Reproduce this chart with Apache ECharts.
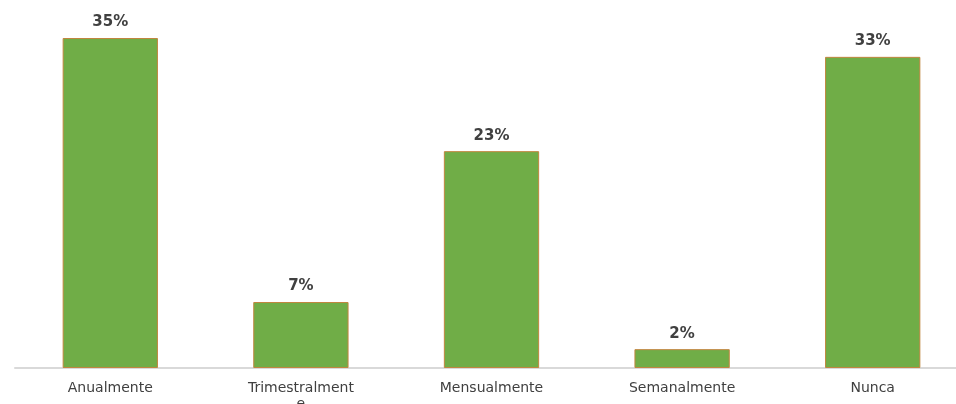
<!DOCTYPE html>
<html><head><meta charset="utf-8">
<script src="https://cdn.jsdelivr.net/npm/echarts@6/dist/echarts.min.js"></script>
<style>html,body{margin:0;padding:0;background:#fff}#c{width:956px;height:404px}</style>
</head><body><div id="c"></div>
<script>
const categories = ["Anualmente", "Trimestralmente", "Mensualmente", "Semanalmente", "Nunca"];
const values = [35, 7, 23, 2, 33];
const chart = echarts.init(document.getElementById('c'), null, {renderer: 'canvas'});
chart.setOption({
  animation: false,
  grid: {left: 15, right: -12, top: 38, bottom: 36, containLabel: false, outerBoundsMode: 'none'},
  xAxis: {
    type: 'category', data: categories,
    axisLine: {lineStyle: {color: '#d9d9d9', width: 2}},
    axisTick: {show: false},
    axisLabel: {color: '#404040', fontFamily: 'DejaVu Sans', fontSize: 14, margin: 12,
      width: 112, overflow: 'breakAll', lineHeight: 16}
  },
  yAxis: {type: 'value', min: 0, max: 35, show: false, splitLine: {show: false}},
  series: [{
    type: 'bar', data: values, barWidth: '50%',
    itemStyle: {color: '#70ad47', borderColor: '#c0863f', borderWidth: 1},
    label: {show: true, position: 'top', distance: 8, formatter: '{c}%', color: '#404040',
      fontFamily: 'DejaVu Sans', fontWeight: 'bold', fontSize: 15}
  }]
});
</script></body></html>
